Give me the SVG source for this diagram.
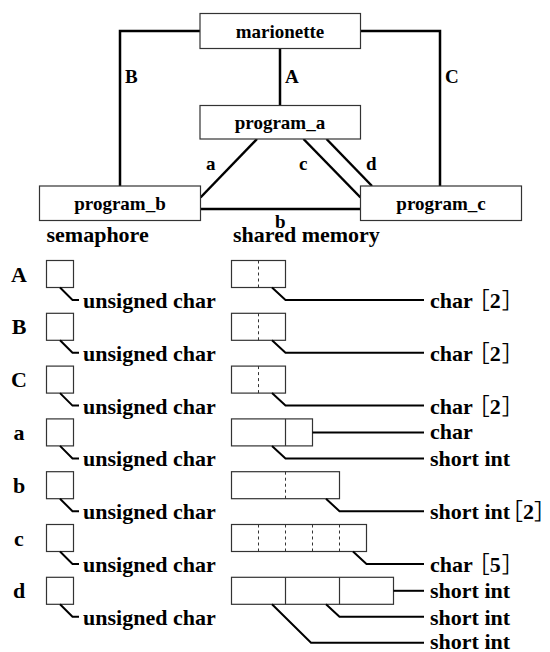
<svg xmlns="http://www.w3.org/2000/svg" width="550" height="652" viewBox="0 0 550 652">
<style>
.box{fill:#fff;stroke:#333;stroke-width:1.2}
.cell{fill:#fff;stroke:#333;stroke-width:1.2}
.div{stroke:#333;stroke-width:1.2}
.dash{stroke:#333;stroke-width:1;stroke-dasharray:3,3}
.conn{fill:none;stroke:#000;stroke-width:2.5}
.lead{fill:none;stroke:#000;stroke-width:2}
text{font-family:"Liberation Serif","Times New Roman","DejaVu Serif",serif;font-weight:bold;fill:#000}
.n{font-size:19px;text-anchor:middle}
.cl{font-size:19px}
.l{font-size:22px}
.br{font-family:"Noto Sans CJK JP","Noto Sans CJK SC",sans-serif;font-weight:400}
</style>
<rect width="550" height="652" fill="#fff"/>
<g id="connectors">
<polyline class="conn" points="200,31 120,31 120,186"/>
<polyline class="conn" points="360.5,31 440,31 440,186"/>
<line class="conn" x1="280" y1="48" x2="280" y2="105.5"/>
<line class="conn" x1="257" y1="139" x2="200.5" y2="197.5"/>
<line class="conn" x1="303.5" y1="139" x2="360.5" y2="197.5"/>
<line class="conn" x1="326.5" y1="139" x2="372" y2="186"/>
<line class="conn" x1="200.5" y1="209" x2="360.5" y2="209"/>
<text class="cl" x="125" y="83">B</text>
<text class="cl" x="285" y="83">A</text>
<text class="cl" x="445" y="83">C</text>
<text class="cl" x="206" y="170">a</text>
<text class="cl" x="299" y="170">c</text>
<text class="cl" x="366" y="170">d</text>
<text class="cl" x="275" y="228">b</text>
</g>
<g id="marionette"><rect class="box" x="200" y="13.5" width="160.5" height="35"/><text class="n" x="280" y="38">marionette</text></g>
<g id="program_a"><rect class="box" x="200" y="105.5" width="160.5" height="33.5"/><text class="n" x="280" y="129">program_a</text></g>
<g id="program_b"><rect class="box" x="39.5" y="186" width="161" height="34.5"/><text class="n" x="120" y="210">program_b</text></g>
<g id="program_c"><rect class="box" x="360.5" y="186" width="161" height="34.5"/><text class="n" x="441" y="210">program_c</text></g>
<text class="l" x="46.5" y="241.5">semaphore</text>
<text class="l" x="233" y="241.5">shared memory</text>

<g id="row-A" transform="translate(0,260.5)">
<text class="l" x="19" y="21" text-anchor="middle">A</text>
<rect class="cell" x="46.5" y="0" width="27" height="27"/>
<polyline class="lead" points="60,27 72.5,39.5 79,39.5"/>
<text class="l" x="83" y="47.5">unsigned char</text>
<rect class="cell" x="231.5" y="0" width="54" height="27"/>
<line class="dash" x1="258.5" y1="0" x2="258.5" y2="27"/>
<polyline class="lead" points="272,27 285.5,39.5 424,39.5"/>
<text class="l" x="430" y="47.5">char<tspan class="br" dx="-5">［</tspan>2<tspan class="br" dx="1">］</tspan></text>
</g>
<g id="row-B" transform="translate(0,313.3)">
<text class="l" x="19" y="21" text-anchor="middle">B</text>
<rect class="cell" x="46.5" y="0" width="27" height="27"/>
<polyline class="lead" points="60,27 72.5,39.5 79,39.5"/>
<text class="l" x="83" y="47.5">unsigned char</text>
<rect class="cell" x="231.5" y="0" width="54" height="27"/>
<line class="dash" x1="258.5" y1="0" x2="258.5" y2="27"/>
<polyline class="lead" points="272,27 285.5,39.5 424,39.5"/>
<text class="l" x="430" y="47.5">char<tspan class="br" dx="-5">［</tspan>2<tspan class="br" dx="1">］</tspan></text>
</g>
<g id="row-C" transform="translate(0,366.1)">
<text class="l" x="19" y="21" text-anchor="middle">C</text>
<rect class="cell" x="46.5" y="0" width="27" height="27"/>
<polyline class="lead" points="60,27 72.5,39.5 79,39.5"/>
<text class="l" x="83" y="47.5">unsigned char</text>
<rect class="cell" x="231.5" y="0" width="54" height="27"/>
<line class="dash" x1="258.5" y1="0" x2="258.5" y2="27"/>
<polyline class="lead" points="272,27 285.5,39.5 424,39.5"/>
<text class="l" x="430" y="47.5">char<tspan class="br" dx="-5">［</tspan>2<tspan class="br" dx="1">］</tspan></text>
</g>
<g id="row-a" transform="translate(0,418.9)">
<text class="l" x="19" y="21" text-anchor="middle">a</text>
<rect class="cell" x="46.5" y="0" width="27" height="27"/>
<polyline class="lead" points="60,27 72.5,39.5 79,39.5"/>
<text class="l" x="83" y="47.5">unsigned char</text>
<rect class="cell" x="231.5" y="0" width="81" height="27"/>
<line class="div" x1="285.5" y1="0" x2="285.5" y2="27"/>
<line class="lead" x1="312.5" y1="13.5" x2="424" y2="13.5"/>
<text class="l" x="430" y="20">char</text>
<polyline class="lead" points="272,27 285.5,39.5 424,39.5"/>
<text class="l" x="430" y="47.5">short int</text>
</g>
<g id="row-b" transform="translate(0,471.7)">
<text class="l" x="19" y="21" text-anchor="middle">b</text>
<rect class="cell" x="46.5" y="0" width="27" height="27"/>
<polyline class="lead" points="60,27 72.5,39.5 79,39.5"/>
<text class="l" x="83" y="47.5">unsigned char</text>
<rect class="cell" x="231.5" y="0" width="108" height="27"/>
<line class="dash" x1="285.5" y1="0" x2="285.5" y2="27"/>
<polyline class="lead" points="326,27 339.5,39.5 424,39.5"/>
<text class="l" x="430" y="47.5">short int<tspan class="br" dx="-9">［</tspan>2<tspan class="br" dx="0">］</tspan></text>
</g>
<g id="row-c" transform="translate(0,524.5)">
<text class="l" x="19" y="21" text-anchor="middle">c</text>
<rect class="cell" x="46.5" y="0" width="27" height="27"/>
<polyline class="lead" points="60,27 72.5,39.5 79,39.5"/>
<text class="l" x="83" y="47.5">unsigned char</text>
<rect class="cell" x="231.5" y="0" width="135" height="27"/>
<line class="dash" x1="258.5" y1="0" x2="258.5" y2="27"/>
<line class="dash" x1="285.5" y1="0" x2="285.5" y2="27"/>
<line class="dash" x1="312.5" y1="0" x2="312.5" y2="27"/>
<line class="dash" x1="339.5" y1="0" x2="339.5" y2="27"/>
<polyline class="lead" points="353,27 366.5,39.5 424,39.5"/>
<text class="l" x="430" y="47.5">char<tspan class="br" dx="-5">［</tspan>5<tspan class="br" dx="1">］</tspan></text>
</g>
<g id="row-d" transform="translate(0,577.3)">
<text class="l" x="19" y="21" text-anchor="middle">d</text>
<rect class="cell" x="46.5" y="0" width="27" height="27"/>
<polyline class="lead" points="60,27 72.5,39.5 79,39.5"/>
<text class="l" x="83" y="47.5">unsigned char</text>
<rect class="cell" x="231.5" y="0" width="162" height="27"/>
<line class="div" x1="285.5" y1="0" x2="285.5" y2="27"/>
<line class="div" x1="339.5" y1="0" x2="339.5" y2="27"/>
<line class="lead" x1="393.5" y1="13.5" x2="424" y2="13.5"/>
<text class="l" x="430" y="20.5">short int</text>
<polyline class="lead" points="326,27 339.5,39.5 424,39.5"/>
<text class="l" x="430" y="47.5">short int</text>
<polyline class="lead" points="272,27 311,65.5 424,65.5"/>
<text class="l" x="430" y="71.5">short int</text>
</g>
</svg>
